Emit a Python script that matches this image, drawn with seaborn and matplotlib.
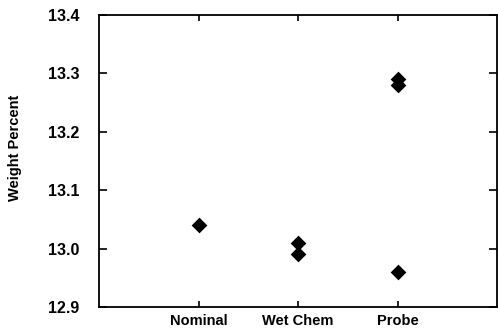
import matplotlib
matplotlib.use("Agg")
import matplotlib.pyplot as plt
import seaborn as sns
import pandas as pd

# Measured weight percent by method
methods = ["Nominal", "Wet Chem", "Wet Chem", "Probe", "Probe", "Probe"]
weight_pct = [13.04, 13.01, 12.99, 13.29, 13.28, 12.96]
categories = ["Nominal", "Wet Chem", "Probe"]
yticks = [12.9, 13.0, 13.1, 13.2, 13.3, 13.4]

df = pd.DataFrame({"Method": methods, "Weight Percent": weight_pct})

sns.set_theme(style="ticks")
plt.rcParams["font.family"] = ["Liberation Sans", "DejaVu Sans"]

fig = plt.figure(figsize=(4.98, 3.35), dpi=100)
ax = fig.add_axes([0.199, 0.0836, 0.799, 0.8716])

sns.stripplot(data=df, x="Method", y="Weight Percent", order=categories,
              jitter=False, marker="D", size=8, color="black",
              linewidth=0, ax=ax)

ax.set_xlim(-1, 3)
ax.set_ylim(12.9, 13.4)
ax.set_yticks(yticks)
ax.set_yticklabels([f"{v:.1f}" for v in yticks], fontsize=11.5,
                   fontweight="bold", color="black")
ax.set_xticks(range(len(categories)))
ax.set_xticklabels(categories, fontsize=10.5, fontweight="bold", color="black")
ax.set_xlabel("")
ax.set_ylabel("Weight Percent", fontsize=10.5, fontweight="bold", color="black")
ax.yaxis.set_label_coords(-0.195, 0.545)

for side in ["left", "right", "top", "bottom"]:
    ax.spines[side].set_visible(True)
    ax.spines[side].set_linewidth(1.3)
    ax.spines[side].set_color("black")

ax.tick_params(axis="y", direction="in", length=6, width=1.2,
               left=True, right=True, colors="black", pad=14)
ax.tick_params(axis="x", direction="in", length=4, width=1.2,
               top=True, bottom=True, colors="black", pad=5)

fig.savefig("out.png", dpi=100)
